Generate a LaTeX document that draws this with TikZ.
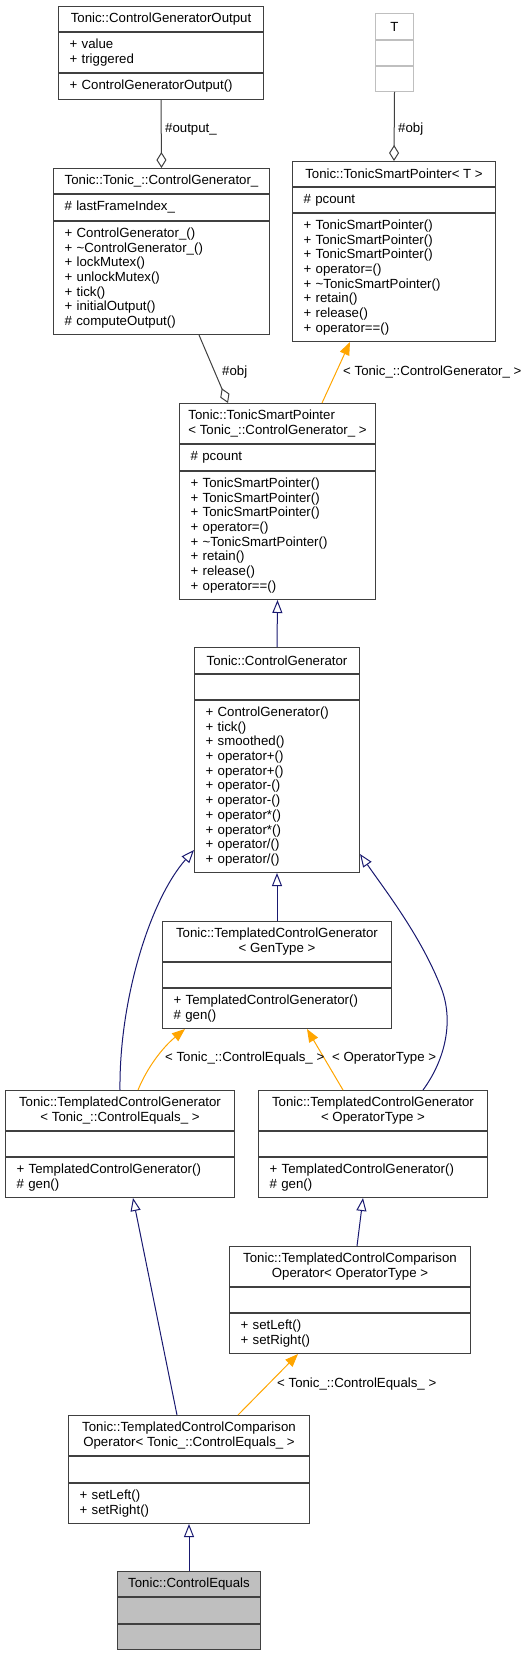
\documentclass[tikz,border=0pt]{standalone}
\usepackage{fontspec}
\setmainfont{Liberation Sans}
\usepackage{tikz}
\usetikzlibrary{arrows.meta}
\definecolor{boxline}{HTML}{404040}
\definecolor{edgeblue}{HTML}{191970}
\definecolor{tmplorange}{HTML}{FFA500}
\definecolor{focusgray}{HTML}{BFBFBF}

\begin{document}
\begin{tikzpicture}[x=1pt,y=-1pt,font=\fontsize{13.25}{14.7}\selectfont,
  sec/.style={draw=boxline,fill=white,line width=1pt,anchor=north west,inner xsep=11pt,inner ysep=0pt},
  hd/.style={sec,align=center,inner xsep=2pt,minimum width=#1},
  bd/.style={sec,align=left,text width=#1},
  lbl/.style={inner sep=0pt,anchor=base west},
  inh/.style={draw=edgeblue,line width=1pt,-{Triangle[open,length=13pt,width=10pt]}},
  tmpl/.style={draw=tmplorange,line width=1pt,-{Triangle[length=13pt,width=10pt]}},
  agg/.style={draw=boxline,line width=1pt,{Diamond[open,length=16pt,width=10pt]}-}]
\useasboundingbox (0,0) rectangle (529,1653);
\node[hd=205pt,minimum height=25pt] (cgoH) at (58,6) {Tonic::ControlGeneratorOutput};
\node[bd=183pt,minimum height=40pt] (cgoA) at (cgoH.south west) {+ value\\+ triggered};
\node[bd=183pt,minimum height=26pt] (cgoM) at (cgoA.south west) {+ ControlGeneratorOutput()};
\node[hd=38pt,draw=focusgray,minimum height=26pt] (tH) at (375,13) {T};
\node[bd=16pt,draw=focusgray,minimum height=25pt] (tA) at (tH.south west) {};
\node[bd=16pt,draw=focusgray,minimum height=25pt] (tM) at (tA.south west) {};
\node[hd=216pt,minimum height=25pt] (cgiH) at (53,168) {Tonic::Tonic\_::ControlGenerator\_};
\node[bd=194pt,minimum height=26pt] (cgiA) at (cgiH.south west) {\# lastFrameIndex\_};
\node[bd=194pt,minimum height=113pt] (cgiM) at (cgiA.south west) {+ ControlGenerator\_()\\+ \textasciitilde ControlGenerator\_()\\+ lockMutex()\\+ unlockMutex()\\+ tick()\\+ initialOutput()\\\# computeOutput()};
\node[hd=203pt,minimum height=25pt] (sptH) at (292,161) {Tonic::TonicSmartPointer< T >};
\node[bd=181pt,minimum height=25pt] (sptA) at (sptH.south west) {\# pcount};
\node[bd=181pt,minimum height=128pt] (sptM) at (sptA.south west) {+ TonicSmartPointer()\\+ TonicSmartPointer()\\+ TonicSmartPointer()\\+ operator=()\\+ \textasciitilde TonicSmartPointer()\\+ retain()\\+ release()\\+ operator==()};
\node[hd=196pt,align=left,minimum height=40pt] (spcH) at (179,403) {Tonic::TonicSmartPointer\\< Tonic\_::ControlGenerator\_ >};
\node[bd=174pt,minimum height=26pt] (spcA) at (spcH.south west) {\# pcount};
\node[bd=174pt,minimum height=128pt] (spcM) at (spcA.south west) {+ TonicSmartPointer()\\+ TonicSmartPointer()\\+ TonicSmartPointer()\\+ operator=()\\+ \textasciitilde TonicSmartPointer()\\+ retain()\\+ release()\\+ operator==()};
\node[hd=165pt,minimum height=26pt] (cgH) at (194,647) {Tonic::ControlGenerator};
\node[bd=143pt,minimum height=25pt] (cgA) at (cgH.south west) {};
\node[bd=143pt,minimum height=172pt] (cgM) at (cgA.south west) {+ ControlGenerator()\\+ tick()\\+ smoothed()\\+ operator+()\\+ operator+()\\+ operator-()\\+ operator-()\\+ operator*()\\+ operator*()\\+ operator/()\\+ operator/()};
\node[hd=229pt,minimum height=40pt] (tcgH) at (162,921) {Tonic::TemplatedControlGenerator\\< GenType >};
\node[bd=207pt,minimum height=25pt] (tcgA) at (tcgH.south west) {};
\node[bd=207pt,minimum height=40pt] (tcgM) at (tcgA.south west) {+ TemplatedControlGenerator()\\\# gen()};
\node[hd=229pt,minimum height=40pt] (tceH) at (5,1090) {Tonic::TemplatedControlGenerator\\< Tonic\_::ControlEquals\_ >};
\node[bd=207pt,minimum height=25pt] (tceA) at (tceH.south west) {};
\node[bd=207pt,minimum height=40pt] (tceM) at (tceA.south west) {+ TemplatedControlGenerator()\\\# gen()};
\node[hd=229pt,minimum height=40pt] (topH) at (258,1090) {Tonic::TemplatedControlGenerator\\< OperatorType >};
\node[bd=207pt,minimum height=25pt] (topA) at (topH.south west) {};
\node[bd=207pt,minimum height=40pt] (topM) at (topA.south west) {+ TemplatedControlGenerator()\\\# gen()};
\node[hd=241pt,minimum height=40pt] (cmpOpH) at (229,1246) {Tonic::TemplatedControlComparison\\Operator< OperatorType >};
\node[bd=219pt,minimum height=25pt] (cmpOpA) at (cmpOpH.south west) {};
\node[bd=219pt,minimum height=40pt] (cmpOpM) at (cmpOpA.south west) {+ setLeft()\\+ setRight()};
\node[hd=241pt,minimum height=40pt] (cmpCeH) at (68,1415) {Tonic::TemplatedControlComparison\\Operator< Tonic\_::ControlEquals\_ >};
\node[bd=219pt,minimum height=26pt] (cmpCeA) at (cmpCeH.south west) {};
\node[bd=219pt,minimum height=40pt] (cmpCeM) at (cmpCeA.south west) {+ setLeft()\\+ setRight()};
\node[hd=143pt,fill=focusgray,minimum height=25pt] (ceH) at (117,1571) {Tonic::ControlEquals};
\node[bd=121pt,fill=focusgray,minimum height=26pt] (ceA) at (ceH.south west) {};
\node[bd=121pt,fill=focusgray,minimum height=25pt] (ceM) at (ceA.south west) {};
\draw[agg] (cgiH.north) -- (cgoM.south);
\draw[agg] (sptH.north) -- (tM.south);
\draw[agg] ([xshift=49pt]spcH.north west) -- ([xshift=146pt]cgiM.south west);
\draw[tmpl] ([xshift=143pt]spcH.north west) -- ([xshift=58pt]sptM.south west);
\draw[inh] (cgH.north) -- (spcM.south);
\draw[inh] (tcgH.north) -- (cgM.south);
\draw[inh] (tceH.north) .. controls (119,1000) and (150,900) .. ([yshift=23pt]cgM.south west);
\draw[inh] ([xshift=165pt]topH.north west) .. controls (445,1060) and (455,1020) .. (440,985) .. controls (420,935) and (385,890) .. ([yshift=19pt]cgM.south east);
\draw[tmpl] ([xshift=18pt]tceH.north) .. controls (147,1068) and (162,1048) .. ([xshift=23pt]tcgM.south west);
\draw[tmpl] ([xshift=85pt]topH.north west) -- ([xshift=145pt]tcgM.south west);
\draw[inh] ([xshift=128pt]cmpOpH.north west) -- ([xshift=105pt]topM.south west);
\draw[inh] ([xshift=109pt]cmpCeH.north west) -- ([xshift=128pt]tceM.south west);
\draw[tmpl] ([xshift=170pt]cmpCeH.north west) -- ([xshift=69pt]cmpOpM.south west);
\draw[inh] (ceH.north) -- (cmpCeM.south);
\node[lbl] (outLbl) at (165,132.5) {\#output\_};
\node[lbl] (objLblT) at (398,132.5) {\#obj};
\node[lbl] (objLbl) at (222,375.5) {\#obj};
\node[lbl] (cgLbl) at (343,375.5) {< Tonic\_::ControlGenerator\_ >};
\node[lbl] (ceLbl) at (165,1061.5) {< Tonic\_::ControlEquals\_ >};
\node[lbl] (opLbl) at (332,1061.5) {< OperatorType >};
\node[lbl] (ceLblB) at (277,1387.5) {< Tonic\_::ControlEquals\_ >};
\end{tikzpicture}
\end{document}
